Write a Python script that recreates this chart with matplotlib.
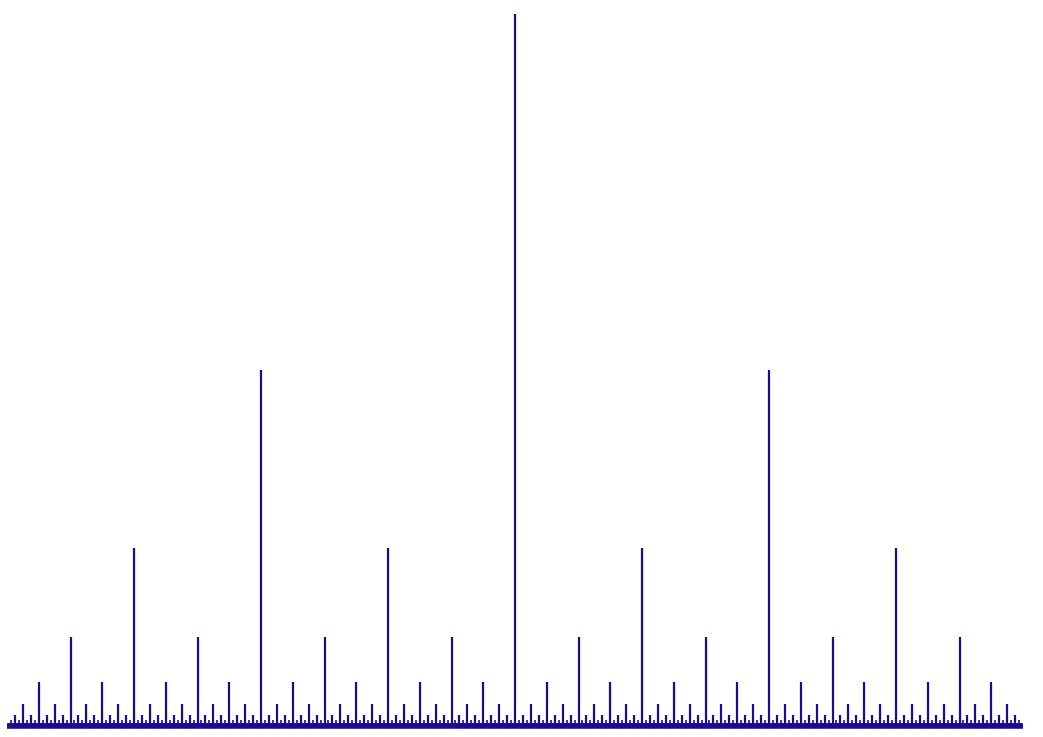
import numpy as np
import matplotlib
matplotlib.use("Agg")
import matplotlib.pyplot as plt

# spike height for each dyadic level (x = k / 2^level, k odd)
level_heights = [1.0, 0.5, 0.25, 0.125, 0.0625, 0.031, 0.016, 0.008, 0.004, 0.002]
line_color = "#1d0c90"

fig = plt.figure(figsize=(10.43, 7.37), dpi=100)
ax = fig.add_axes([0, 0, 1, 1])

for level, h in enumerate(level_heights):
    n = 2 ** (level + 1)
    xs = np.arange(1, n, 2) / n
    ax.vlines(xs, 0, h, color=line_color, linewidth=1.6 if level < 7 else 1.2)

# dense base band
ax.plot([0, 1], [0, 0], color=line_color, linewidth=4, solid_capstyle="butt")

ax.set_xlim(-7 / 1016, 1 + 20 / 1016)
ax.set_ylim(-11 / 712, 1 + 14 / 712)
ax.axis("off")

fig.savefig("out.png", dpi=100)
